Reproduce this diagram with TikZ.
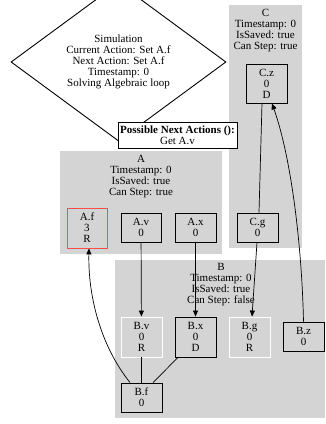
\documentclass[tikz,border=0pt]{standalone}
\usepackage{fontspec}
\setmainfont{Liberation Serif}
\usetikzlibrary{positioning,calc,arrows,arrows.meta,shapes.geometric}
\tikzset{font=\fontsize{11}{11}\selectfont}
\tikzset{
	cluster/.style={fill=black!17, draw=none, inner sep=0pt},
	var/.style={draw, line width=0.9pt, align=center, inner sep=0pt, minimum width=41pt},
	tip/.style={-{Triangle[length=6pt,width=5pt]}}
}

\begin{document}
\begin{tikzpicture}[x=1pt, y=-1pt, line width=0.7pt]
	\useasboundingbox (0,0) rectangle (326,424);
	\begin{scope}
		\tikzstyle{every node}=[align=center, inner sep=0pt]
		% clusters
		\node [cluster, minimum width=73pt, minimum height=243pt] (clc) at (265.5, 126.5) {};
		\node [cluster, minimum width=162pt, minimum height=103pt] (cla) at (141, 202.5) {};
		\node [cluster, minimum width=210pt, minimum height=158pt] (clb) at (220, 339) {};
		\node (clclab) at (265.5, 30.5) {C\\Timestamp: 0\\IsSaved: true\\Can Step: true};
		\node (clalab) at (141, 176.5) {A\\Timestamp: 0\\IsSaved: true\\Can Step: true};
		\node (clblab) at (221, 284.5) {B\\Timestamp: 0\\IsSaved: true\\Can Step: false};

		\node [diamond, draw, line width=0.9pt, minimum width=215pt, minimum height=122pt] (sim) at (118.5, 62) {Simulation\\Current Action: Set A.f\\Next Action: Set A.f\\Timestamp: 0\\Solving Algebraic loop};
		\node [draw, fill=white, line width=0.9pt, minimum width=119pt, minimum height=26pt] (pna) at (177.5, 135) {\textbf{Possible Next Actions ():}\\Get A.v};

		\node [var, minimum height=39pt] (cz) at (266.5, 83.5) {C.z\\0\\D};
		\node [var, minimum height=29pt] (cg) at (257.5, 227.5) {C.g\\0};

		\node [var, draw=red!70, minimum width=40pt, minimum height=40pt] (af) at (87, 228) {A.f\\3\\R};
		\node [var, minimum width=40pt, minimum height=29pt] (av) at (141, 227.5) {A.v\\0};
		\node [var, minimum height=29pt] (ax) at (195.5, 227.5) {A.x\\0};

		\node [var, draw=white, minimum height=40pt] (bv) at (141.5, 337) {B.v\\0\\R};
		\node [var, minimum height=40pt] (bx) at (195.5, 337) {B.x\\0\\D};
		\node [var, draw=white, minimum height=40pt] (bg) at (249.5, 337) {B.g\\0\\R};
		\node [var, minimum height=29pt] (bz) at (303.5, 336.5) {B.z\\0};
		\node [var, minimum height=29pt] (bf) at (141.5, 397.5) {B.f\\0};

		\draw [tip] (av) to (bv);
		\draw [tip] (ax) to (bx);
		\draw [tip] ([xshift=-0.5pt]cg.south) to ([xshift=2.5pt]bg.north);
		\draw ([xshift=-4.5pt]cz.south) to ([xshift=1.5pt]cg.north);
		\draw [tip] (bz.north) .. controls (302, 250) and (292, 160) .. ([xshift=5.5pt]cz.south);
		\draw [tip] ([xshift=-11.5pt]bf.north) .. controls (100, 345) and (88, 295) .. ([xshift=2pt]af.south);
		\draw (bv) to (bf);
		\draw ([xshift=-17.5pt]bx.south) to ([xshift=11.5pt]bf.north);
	\end{scope}
\end{tikzpicture}
\end{document}
